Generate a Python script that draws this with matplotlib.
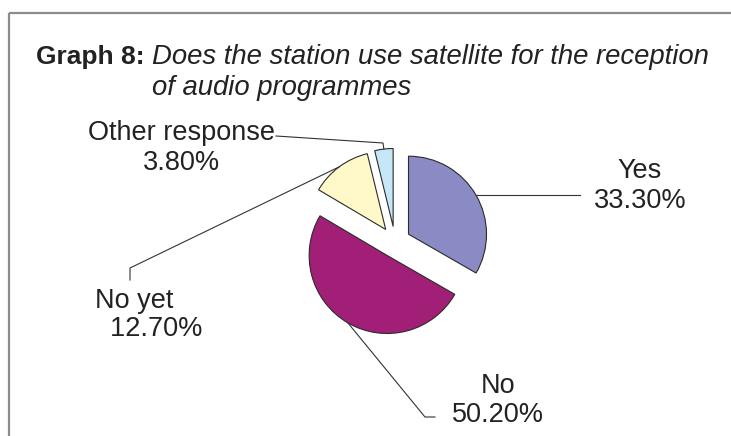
import numpy as np
import matplotlib.pyplot as plt

plt.rcParams['font.family'] = ['Liberation Sans', 'DejaVu Sans']

# Survey answers
labels = ['Yes', 'No', 'No yet', 'Other response']
shares = [33.3, 50.2, 12.7, 3.8]
colors = ['#8a8ac4', '#a11f76', '#fff9c9', '#c6e7f8']

W, H = 731, 436
fig = plt.figure(figsize=(W / 100, H / 100), dpi=100)
ax = fig.add_axes([0, 0, 1, 1])

R = 78
center = (395, H - 242)
wedges, _ = ax.pie(shares, colors=colors, startangle=90, counterclock=False,
                   explode=[0.2 * R] * len(shares), radius=R, center=center,
                   wedgeprops=dict(edgecolor='#2b2b2b', linewidth=0.8))
ax.set_xlim(0, W)
ax.set_ylim(0, H)
ax.set_aspect('equal')
ax.axis('off')


def arc_point(w):
    # point on the outer arc at the middle of the wedge
    mid = np.deg2rad((w.theta1 + w.theta2) / 2)
    return w.center[0] + w.r * np.cos(mid), w.center[1] + w.r * np.sin(mid)


# frame (open on the right and bottom)
ax.plot([9, W], [H - 13, H - 13], color='#8c8c8c', lw=1.6, solid_capstyle='butt')
ax.plot([9, 9], [H - 13, 0], color='#8c8c8c', lw=1.6, solid_capstyle='butt')

# title
fs = 19.5
ax.text(36, H - 64, 'Graph 8:', fontsize=19, fontweight='bold', color='#222222',
        va='baseline')
ax.text(152, H - 64, 'Does the station use satellite for the reception',
        fontsize=19.8, fontstyle='italic', color='#222222', va='baseline')
ax.text(152, H - 95, 'of audio programmes', fontsize=19.8, fontstyle='italic',
        color='#222222', va='baseline')

# labels and leader lines
lc = dict(color='#333333', lw=0.8)
pct = [f'{v:.2f}%' for v in shares]

# Yes
px, py = arc_point(wedges[0])
ax.plot([px, 580], [py, py], **lc)
ax.text(640, H - 186, f'{labels[0]}\n{pct[0]}', fontsize=fs, ha='center',
        va='center', linespacing=1.15, color='#222222')

# No
px, py = arc_point(wedges[1])
ax.plot([px, 425, 435], [py, H - 417, H - 417], **lc)
ax.text(498, H - 400, f'{labels[1]}\n{pct[1]}', fontsize=fs, ha='center',
        va='center', linespacing=1.15, color='#222222')

# No yet
px, py = arc_point(wedges[2])
ax.plot([px, 130, 130], [py, H - 268, H - 280], **lc)
ax.text(95, H - 315, f'{labels[2]}\n  {pct[2]}', fontsize=fs, ha='left',
        va='center', linespacing=1.15, color='#222222')

# Other response
px, py = arc_point(wedges[3])
ax.plot([276, 383, px], [H - 136, H - 143, py], **lc)
ax.text(181, H - 148, f'{labels[3]}\n{pct[3]}', fontsize=fs, ha='center',
        va='center', linespacing=1.15, color='#222222')

fig.savefig('out.png', dpi=100)
